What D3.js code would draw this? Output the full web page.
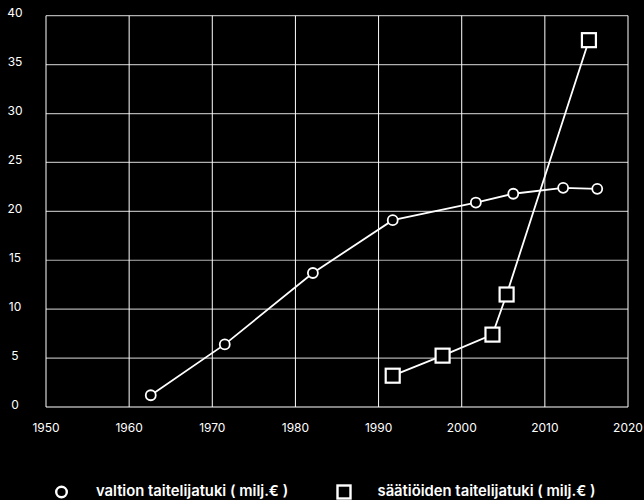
<!DOCTYPE html>
<html>
<head>
<meta charset="utf-8">
<script src="https://cdn.jsdelivr.net/npm/d3@7"></script>
<style>
html,body{margin:0;padding:0;background:#000;}
svg{display:block;}
</style>
</head>
<body>
<svg id="chart" width="644" height="500"></svg>
<script>
const stateYears = [1962.6, 1971.5, 1982.1, 1991.7, 2001.7, 2006.2, 2012.2, 2016.3];
const stateValues = [1.2, 6.4, 13.7, 19.1, 20.9, 21.8, 22.4, 22.3];
const foundYears = [1991.7, 1997.7, 2003.7, 2005.4, 2015.3];
const foundValues = [3.2, 5.25, 7.4, 11.5, 37.5];
const xTicks = [1950, 1960, 1970, 1980, 1990, 2000, 2010, 2020];
const yTicks = [0, 5, 10, 15, 20, 25, 30, 35, 40];
const seriesNames = ["valtion taitelijatuki ( milj.€ )", "säätiöiden taitelijatuki ( milj.€ )"];

const svg = d3.select("#chart");
const font = "Inter, 'Noto Sans', sans-serif";
svg.append("rect").attr("width", 644).attr("height", 500).attr("fill", "#000");

const x = d3.scaleLinear().domain([1950, 2020]).range([46, 628]);
const y = d3.scaleLinear().domain([0, 40]).range([407, 15.7]);

// horizontal grid
svg.append("g").selectAll("line").data(yTicks.filter(d => d > 0)).join("line")
  .attr("x1", x(1950)).attr("x2", x(2020))
  .attr("y1", d => y(d)).attr("y2", d => y(d))
  .attr("stroke", "#b0b0b0").attr("stroke-width", 1.2);
// vertical grid
svg.append("g").selectAll("line").data(xTicks).join("line")
  .attr("x1", d => x(d)).attr("x2", d => x(d))
  .attr("y1", y(40)).attr("y2", y(0))
  .attr("stroke", "#fff").attr("stroke-width", 1);
// bottom axis line
svg.append("line").attr("x1", x(1950)).attr("x2", x(2020)).attr("y1", y(0)).attr("y2", y(0))
  .attr("stroke", "#fff").attr("stroke-width", 1.2);

// y labels
svg.append("g").selectAll("text").data(yTicks).join("text")
  .attr("x", 15).attr("y", d => y(d) - 1.5)
  .attr("text-anchor", "middle").attr("dominant-baseline", "middle")
  .attr("fill", "#fff").attr("font-family", font).attr("font-size", 12)
  .text(d => d);
// x labels
svg.append("g").selectAll("text").data(xTicks).join("text")
  .attr("x", d => x(d)).attr("y", 432)
  .attr("text-anchor", "middle")
  .attr("fill", "#fff").attr("font-family", font).attr("font-size", 12)
  .text(d => d);

const state = stateYears.map((d, i) => [d, stateValues[i]]);
const found = foundYears.map((d, i) => [d, foundValues[i]]);
const line = d3.line().x(d => x(d[0])).y(d => y(d[1]));

svg.append("path").datum(state).attr("d", line).attr("fill", "none").attr("stroke", "#fff").attr("stroke-width", 1.8);
svg.append("path").datum(found).attr("d", line).attr("fill", "none").attr("stroke", "#fff").attr("stroke-width", 1.8);

svg.append("g").selectAll("circle").data(state).join("circle")
  .attr("cx", d => x(d[0])).attr("cy", d => y(d[1])).attr("r", 5)
  .attr("fill", "#000").attr("stroke", "#fff").attr("stroke-width", 1.8);
const s = 14;
svg.append("g").selectAll("rect").data(found).join("rect")
  .attr("x", d => x(d[0]) - s / 2).attr("y", d => y(d[1]) - s / 2)
  .attr("width", s).attr("height", s)
  .attr("fill", "#000").attr("stroke", "#fff").attr("stroke-width", 2.2);

// legend
const lg = svg.append("g");
lg.append("circle").attr("cx", 61.5).attr("cy", 492).attr("r", 5.3)
  .attr("fill", "#000").attr("stroke", "#fff").attr("stroke-width", 2.4);
lg.append("rect").attr("x", 337.5).attr("y", 485.5).attr("width", 13).attr("height", 13)
  .attr("fill", "#000").attr("stroke", "#fff").attr("stroke-width", 2.4);
lg.selectAll("text").data(seriesNames).join("text")
  .attr("x", (d, i) => i === 0 ? 96 : 377.5).attr("y", 492)
  .attr("dominant-baseline", "middle")
  .attr("fill", "#fff").attr("font-family", font).attr("font-size", 14.8).attr("font-weight", 600)
  .text(d => d);
</script>
</body>
</html>
